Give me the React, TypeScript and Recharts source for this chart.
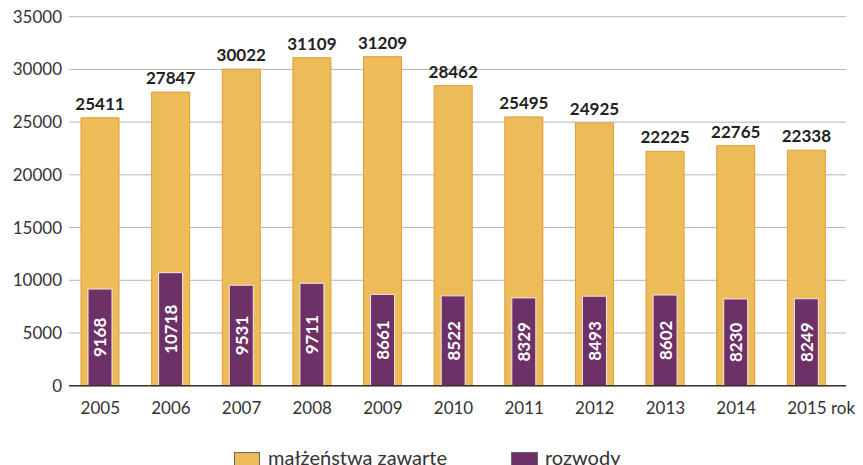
import React from 'react';
import { BarChart, Bar, XAxis, YAxis, CartesianGrid, LabelList } from 'recharts';

const years = ['2005', '2006', '2007', '2008', '2009', '2010', '2011', '2012', '2013', '2014', '2015'];
const marriages = [25411, 27847, 30022, 31109, 31209, 28462, 25495, 24925, 22225, 22765, 22338];
const divorces = [9168, 10718, 9531, 9711, 8661, 8522, 8329, 8493, 8602, 8230, 8249];
const yTicks = [0, 5000, 10000, 15000, 20000, 25000, 30000, 35000];

const data = years.map((y, i) => ({ year: y, marriages: marriages[i], divorces: divorces[i] }));

const FONT = 'Lato, "DejaVu Sans", sans-serif';
const YELLOW = '#EBBC58';
const YELLOW_STROKE = '#E39A36';
const PURPLE = '#6D3167';

const XTick = (props: any) => {
  const { x, y, payload, index } = props;
  const last = index === years.length - 1;
  return (
    <text
      x={last ? x - 19.5 : x}
      y={y + 28}
      textAnchor={last ? 'start' : 'middle'}
      fontFamily={FONT}
      fontSize={17}
      fill="#333"
    >
      {last ? payload.value + ' rok' : payload.value}
    </text>
  );
};

const TopLabel = (props: any) => {
  const { x, y, width, value } = props;
  return (
    <text
      x={x + width / 2}
      y={y - 8}
      textAnchor="middle"
      fontFamily={FONT}
      fontWeight={700}
      fontSize={17}
      fill="#222"
    >
      {value}
    </text>
  );
};

const InnerLabel = (props: any) => {
  const { x, y, width, height, value } = props;
  const cx = x + width / 2;
  const cy = y + height / 2;
  return (
    <text
      x={cx}
      y={cy}
      transform={`rotate(-90 ${cx} ${cy})`}
      textAnchor="middle"
      dominantBaseline="central"
      fontFamily={FONT}
      fontWeight={700}
      fontSize={17}
      fill="#fff"
    >
      {value}
    </text>
  );
};

export default function App() {
  return (
    <div style={{ position: 'absolute', left: 0, top: 0, width: 863, height: 465, overflow: 'hidden', background: '#fff' }}>
      <BarChart
        width={863}
        height={465}
        data={data}
        margin={{ top: 16.7, right: 17, bottom: 49.3, left: 0 }}
      >
        <CartesianGrid vertical={false} stroke="#b5b5b5" strokeWidth={1} />
        <YAxis
          domain={[0, 35000]}
          ticks={yTicks}
          width={69}
          tickLine={false}
          axisLine={false}
          tickSize={0}
          tickMargin={7}
          tick={{ fontFamily: FONT, fontSize: 17, fill: '#333' }}
          interval={0}
        />
        <XAxis
          xAxisId="a"
          dataKey="year"
          height={30}
          padding={{ left: -4, right: 4 }}
          tickLine={false}
          tickSize={0}
          tickMargin={0}
          axisLine={{ stroke: '#333', strokeWidth: 1.5 }}
          tick={<XTick />}
          interval={0}
        />
        <XAxis xAxisId="b" dataKey="year" hide padding={{ left: -4, right: 4 }} />
        <Bar
          xAxisId="a"
          dataKey="marriages"
          barSize={38}
          fill={YELLOW}
          stroke={YELLOW_STROKE}
          strokeWidth={1}
          isAnimationActive={false}
        >
          <LabelList dataKey="marriages" content={<TopLabel />} />
        </Bar>
        <Bar
          xAxisId="b"
          dataKey="divorces"
          barSize={24}
          fill={PURPLE}
          stroke="#f3e6ee"
          strokeWidth={1}
          isAnimationActive={false}
        >
          <LabelList dataKey="divorces" content={<InnerLabel />} />
        </Bar>
      </BarChart>
      <div style={{ position: 'absolute', left: 234, top: 452, width: 26, height: 26, background: YELLOW, border: '1px solid #666', boxSizing: 'border-box' }} />
      <div style={{ position: 'absolute', left: 268, top: 444, fontFamily: FONT, fontSize: 20, color: '#333', whiteSpace: 'nowrap', lineHeight: '26px' }}>
        małżeństwa zawarte
      </div>
      <div style={{ position: 'absolute', left: 511, top: 452, width: 27, height: 26, background: PURPLE, border: '1px solid #666', boxSizing: 'border-box' }} />
      <div style={{ position: 'absolute', left: 545, top: 444, fontFamily: FONT, fontSize: 20, color: '#333', whiteSpace: 'nowrap', lineHeight: '26px' }}>
        rozwody
      </div>
    </div>
  );
}
